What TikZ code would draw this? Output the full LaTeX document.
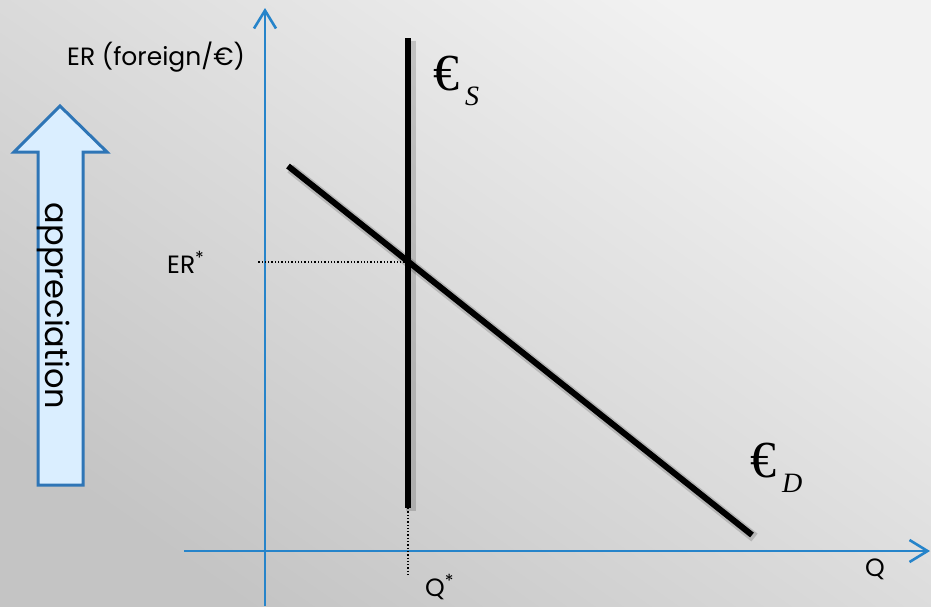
\documentclass[tikz,border=0pt]{standalone}
\usepackage{fontspec}
\setmainfont{Poppins}
\newfontfamily\eurofont{Liberation Serif}
\usepackage{tikz}
\usetikzlibrary{arrows.meta, positioning}
\definecolor{axisblue}{RGB}{38,132,202}
\definecolor{arrowblue}{RGB}{46,117,182}
\definecolor{arrowfill}{RGB}{218,238,255}
\newcommand{\eurolabel}[1]{{\eurofont\fontsize{52}{52}\selectfont €\hspace{6pt}\raisebox{-15pt}{\fontsize{28}{28}\selectfont\itshape #1}}}
\newcommand{\starred}[1]{#1\raisebox{9pt}{\fontsize{18}{18}\selectfont *}}

\begin{document}
\begin{tikzpicture}[x=1pt, y=-1pt,
    axis/.style={draw=axisblue, line width=2.6pt, -{Straight Barb[length=18pt, width=22pt, line width=2.6pt]}},
    curve/.style={line width=6pt, preaction={draw=black, opacity=0.16, line width=10pt,
      transform canvas={shift={(2.5pt,-2.5pt)}}}},
    guide/.style={dotted, line width=1.3pt},
    lbl/.style={font=\fontsize{25}{25}\selectfont, inner sep=0pt}]
  % fondo
  \useasboundingbox (0,0) rectangle (931,606);
  \shade[top color=gray!10, bottom color=gray!46, shading angle=-35] (0,0) rectangle (931,606);
  % ejes
  \coordinate (ybot) at (265,606);
  \coordinate (ytop) at (265,8);
  \coordinate (xleft) at (184,551);
  \coordinate (xright) at (930,551);
  \draw[axis] (ybot) -- (ytop);
  \draw[axis] (xleft) -- (xright);
  % oferta y demanda
  \coordinate (s1) at (408,38);
  \coordinate (s2) at (408,508);
  \coordinate (d1) at (288,166);
  \coordinate (d2) at (752,535);
  \coordinate (eq) at (408,262);
  \coordinate (erend) at (257,262);
  \coordinate (qend) at (408,576);
  \draw[guide] (eq) -- (erend);
  \draw[guide] (s2) -- (qend);
  \draw[curve] (s1) -- (s2);
  \draw[curve] (d1) -- (d2);
  % etiquetas
  \node[lbl, anchor=base west] (ylab) at (67,65) {ER (foreign/€)};
  \node[lbl, anchor=base west] (erstar) at (167,273) {\starred{ER}};
  \node[lbl, anchor=base west] (qstar) at (425,596) {\starred{Q}};
  \node[lbl, anchor=base west] (xlab) at (865,576) {Q};
  \node[anchor=base west, inner sep=0pt] (supply) at (433,90) {\eurolabel{S}};
  \node[anchor=base west, inner sep=0pt] (demand) at (750,477) {\eurolabel{D}};
  % flecha
  \draw[arrowblue, fill=arrowfill, line width=3pt] (60,106) -- (14,152) -- (38,152) -- (38,485)
    -- (83,485) -- (83,152) -- (107,152) -- cycle;
  \node[anchor=base, rotate=-90, inner sep=0pt, font=\fontsize{32}{32}\selectfont] (apprec) at (45,306) {appreciation};
\end{tikzpicture}
\end{document}
